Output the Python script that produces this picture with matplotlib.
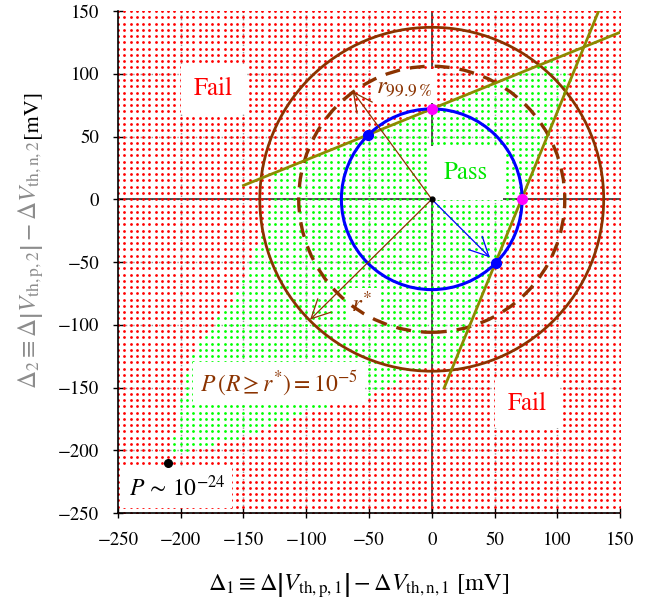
import numpy as np
import matplotlib.pyplot as plt
from matplotlib.patches import Circle
from matplotlib.path import Path

plt.rcParams['mathtext.fontset'] = 'stix'
plt.rcParams['font.family'] = ['STIXGeneral', 'DejaVu Serif']

# axis ranges and ticks [mV]
x_ticks = [-250, -200, -150, -100, -50, 0, 50, 100, 150]
y_ticks = [-250, -200, -150, -100, -50, 0, 50, 100, 150]
grid_step = 5

# pass region boundary (x, y) [mV]
pass_x = [-125, 0, 95, 111, 72.5, 20, 0, -50, -100, -150, -207,
          -200, -188, -172, -157, -147, -136, -128]
pass_y = [21, 72.5, 111, 95, 0, -128, -132, -157, -170, -190, -203,
          -155, -117, -97, -80, -52, -30, 0]

# radii
r_pass = 72
r_999 = 106
r_star = 137

# olive boundary lines (end points)
line_a_x = [-150, 150]
line_a_y = [11, 133]
line_b_x = [10, 133]
line_b_y = [-150, 150]

# marked points
blue_x = [-51, 51]
blue_y = [51, -51]
mag_x = [0, 72]
mag_y = [72, 0]
worst_x = [-210]
worst_y = [-210]

# arrow tips
arrow_999 = (-63, 86)
arrow_star = (-97, -96)
arrow_blue = (51, -51)

brown = '#8b3300'
olive = '#8c8a00'

fig = plt.figure(figsize=(6.47, 6.02), dpi=100)
ax = fig.add_axes([118 / 647, 89 / 602, 502 / 647, 502 / 602])

# dot grid, coloured by pass / fail
gx, gy = np.meshgrid(np.arange(x_ticks[0], x_ticks[-1] + 1, grid_step),
                     np.arange(y_ticks[0], y_ticks[-1] + 1, grid_step))
pts = np.column_stack([gx.ravel(), gy.ravel()])
inside = Path(np.column_stack([pass_x, pass_y])).contains_points(pts)
ax.scatter(pts[~inside, 0], pts[~inside, 1], s=4, marker='o', c='#ff0000', lw=0, zorder=2)
ax.scatter(pts[inside, 0], pts[inside, 1], s=4, marker='o', c='#00ff00', lw=0, zorder=2)

# grid and zero axes
for t in x_ticks[1:-1]:
    ax.axvline(t, color='#999999', lw=1, ls=':', zorder=1)
for t in y_ticks[1:-1]:
    ax.axhline(t, color='#999999', lw=1, ls=':', zorder=1)
ax.axhline(0, color='#222222', lw=1.1, zorder=1)
ax.axvline(0, color='#222222', lw=1.1, zorder=1)

# labels with white boxes
box = dict(boxstyle='square,pad=0.5', fc='white', ec='none')
ax.text(-174, 88, 'Fail', color='red', fontsize=18, ha='center', va='center', bbox=box, zorder=3)
ax.text(76, -163, 'Fail', color='red', fontsize=18, ha='center', va='center', bbox=box, zorder=3)
ax.text(27, 21, 'Pass', color='#00e600', fontsize=18, ha='center', va='center',
        bbox=dict(boxstyle='square,pad=0.6', fc='white', ec='none'), zorder=3)
ax.text(-22, 90, r'$r_{99.9\,\%}$', color=brown, fontsize=18, ha='center', va='center',
        bbox=dict(boxstyle='square,pad=0.2', fc='white', ec='none'), zorder=3)
ax.text(-56, -85, r'$r^{*}$', color=brown, fontsize=18, ha='center', va='center',
        bbox=dict(boxstyle='square,pad=0.2', fc='white', ec='none'), zorder=3)
ax.text(-122, -147, r'$P\,(R \geq r^{*}) = 10^{-5}$', color=brown, fontsize=17,
        ha='center', va='center', bbox=dict(boxstyle='square,pad=0.3', fc='white', ec='none'), zorder=3)
ax.text(-203, -230, r'$P\,\sim\,10^{-24}$', color='black', fontsize=17,
        ha='center', va='center', bbox=dict(boxstyle='square,pad=0.3', fc='white', ec='none'), zorder=3)

# circles
ax.add_patch(Circle((0, 0), r_star, fill=False, ec=brown, lw=2, zorder=4))
ax.add_patch(Circle((0, 0), r_999, fill=False, ec=brown, lw=2.4, ls=(0, (4.5, 3)), zorder=4))
ax.add_patch(Circle((0, 0), r_pass, fill=False, ec='#0000ff', lw=2.2, zorder=5))

# boundary lines
ax.plot(line_a_x, line_a_y, color=olive, lw=2, zorder=4)
ax.plot(line_b_x, line_b_y, color=olive, lw=2, zorder=4)

# arrows
for tip, col, sb in [(arrow_999, brown, 0), (arrow_star, brown, 0), (arrow_blue, '#0000ff', 6)]:
    ax.annotate('', xy=tip, xytext=(0, 0),
                arrowprops=dict(arrowstyle='->', color=col, lw=0.9, mutation_scale=34,
                                shrinkA=0, shrinkB=sb), zorder=6)

ax.plot(blue_x, blue_y, 'o', color='#0000ff', ms=7, zorder=7)
ax.plot(mag_x, mag_y, 'o', color='#ff00ff', ms=7, zorder=7)
ax.plot([0], [0], 'o', color='black', ms=3.5, zorder=7)
ax.plot(worst_x, worst_y, 'o', color='black', ms=5.5, zorder=7)

ax.set_xlim(x_ticks[0], x_ticks[-1])
ax.set_ylim(y_ticks[0], y_ticks[-1])
ax.set_xticks(x_ticks)
ax.set_yticks(y_ticks)
ax.tick_params(direction='inout', length=7, width=1, labelsize=13.5, pad=10)
ax.spines['top'].set_visible(False)
ax.spines['right'].set_visible(False)
ax.spines['left'].set_linewidth(1.2)
ax.spines['bottom'].set_linewidth(1.2)

ax.set_xlabel(r'$\Delta_1 \equiv \Delta\left|V_{\mathrm{th,p,1}}\right| - \Delta V_{\mathrm{th,n,1}}$ [mV]',
              fontsize=17.5, labelpad=8)
ax.xaxis.set_label_coords(0.48, -0.115)
ax.text(-0.172, 0.743, r'$\Delta_2 \equiv \Delta\left|V_{\mathrm{th,p,2}}\right| - \Delta V_{\mathrm{th,n,2}}$',
        transform=ax.transAxes, rotation=90, rotation_mode='anchor', ha='right', va='center',
        fontsize=18, color='#8c8c8c', clip_on=False)
ax.text(-0.172, 0.747, '[mV]', transform=ax.transAxes, rotation=90, rotation_mode='anchor',
        ha='left', va='center', fontsize=16, color='black', clip_on=False)

fig.savefig('out.png', dpi=100)
